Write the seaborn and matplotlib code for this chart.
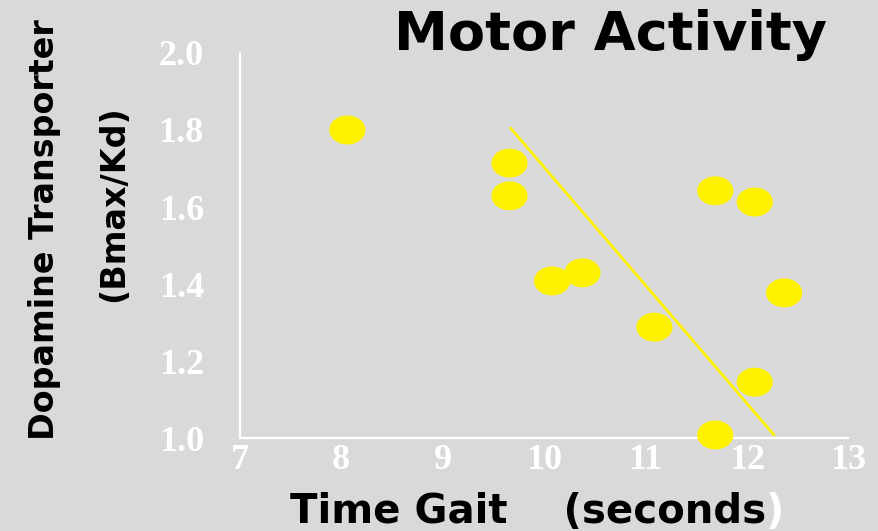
import numpy as np
import pandas as pd
import matplotlib
matplotlib.use('Agg')
import matplotlib.pyplot as plt
from matplotlib.path import Path
import seaborn as sns

# values
gait_time = [8.06, 9.66, 9.66, 10.08, 10.38, 11.09, 11.69, 12.08, 12.37, 12.08, 11.69]
dat_binding = [1.80, 1.714, 1.629, 1.408, 1.429, 1.288, 1.642, 1.613, 1.377, 1.145, 1.008]
fit_x = [9.67, 12.27]
fit_y = [1.805, 1.008]
x_ticks = [7, 8, 9, 10, 11, 12, 13]
y_ticks = [1.0, 1.2, 1.4, 1.6, 1.8, 2.0]

bg = '#D9D9D9'
yellow = '#FFF200'

sns.set_theme(style='white')
plt.rcParams['font.family'] = ['DejaVu Sans']

df = pd.DataFrame({'gait': gait_time, 'dat': dat_binding})
fit = pd.DataFrame({'x': fit_x, 'y': fit_y})

fig = plt.figure(figsize=(8.79, 5.31), dpi=100, facecolor=bg)
ax = fig.add_axes([0.273, 0.1751, 0.6917, 0.7251])
ax.set_facecolor(bg)

# flattened ellipse marker
t = np.linspace(0, 2 * np.pi, 60)
ellipse = Path(np.column_stack([np.cos(t), 0.8 * np.sin(t)]), closed=True)

sns.lineplot(data=fit, x='x', y='y', ax=ax, color=yellow, lw=2.0, zorder=3)
sns.scatterplot(data=df, x='gait', y='dat', ax=ax, marker=ellipse, s=680,
                color=yellow, edgecolor='none', linewidth=0, zorder=5, clip_on=False)

ax.set_xlim(7, 13)
ax.set_ylim(1.0, 2.0)
ax.set_xticks(x_ticks)
ax.set_yticks(y_ticks)
ax.set_xticklabels([str(v) for v in x_ticks])
ax.set_yticklabels([f'{v:.1f}' for v in y_ticks])
for lab in ax.get_xticklabels() + ax.get_yticklabels():
    lab.set_family('Liberation Serif')
    lab.set_fontweight('bold')
    lab.set_fontsize(26)
    lab.set_color('white')
ax.tick_params(axis='both', length=0)
ax.tick_params(axis='x', pad=4)
ax.tick_params(axis='y', pad=26)
ax.set_xlabel('')
ax.set_ylabel('')

for side in ['top', 'right']:
    ax.spines[side].set_visible(False)
for side in ['left', 'bottom']:
    ax.spines[side].set_color('white')
    ax.spines[side].set_linewidth(1.6)

fig.text(0.695, 0.906, 'Motor Activity', fontsize=39, fontweight='bold',
         color='black', ha='center', va='baseline')

fig.text(0.051, 0.567, 'Dopamine Transporter', fontsize=24, fontweight='bold',
         color='black', rotation=90, ha='center', va='center')
fig.text(0.129, 0.616, '(Bmax/Kd)', fontsize=24, fontweight='bold',
         color='black', rotation=90, ha='center', va='center')

xl = fig.text(0.33, 0.015, 'Time Gait    (seconds', fontsize=29, fontweight='bold',
              color='black', ha='left', va='baseline')
fig.canvas.draw()
bb = xl.get_window_extent().transformed(fig.transFigure.inverted())
fig.text(bb.x1, 0.015, ')', fontsize=29, fontweight='bold', color='white',
         ha='left', va='baseline')

fig.savefig('out.png', dpi=100, facecolor=bg)
